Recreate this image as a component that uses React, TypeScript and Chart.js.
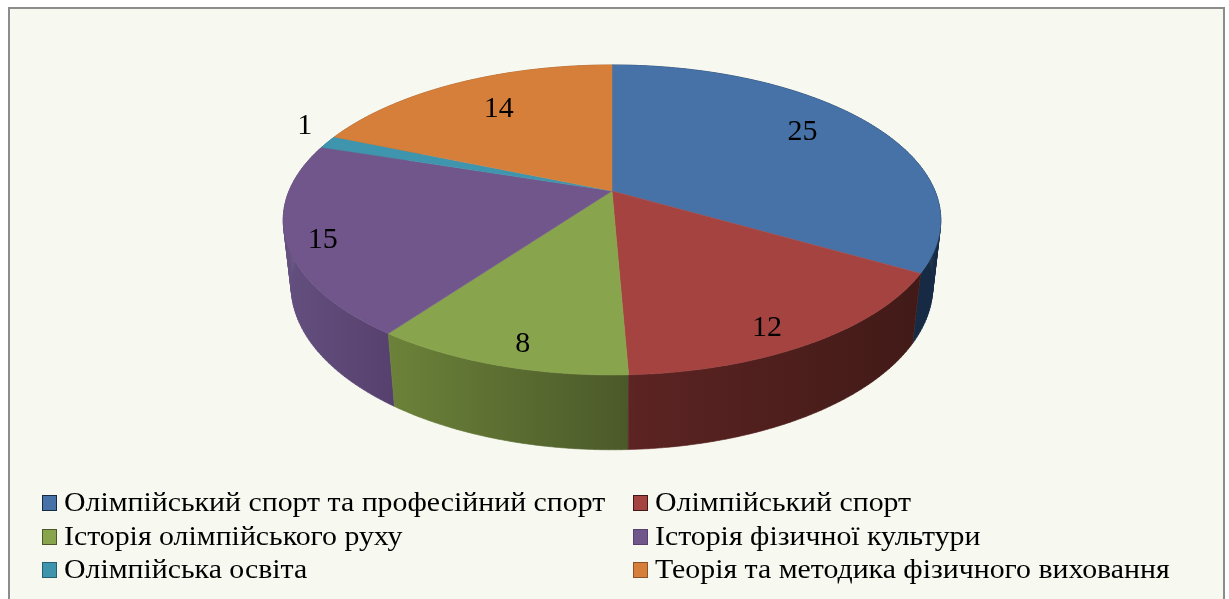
import React, { useEffect, useRef } from "react";
import { Chart, registerables } from "chart.js";

Chart.register(...registerables);

const categories = [
  "Олімпійський спорт та професійний спорт",
  "Олімпійський спорт",
  "Історія олімпійського руху",
  "Історія фізичної культури",
  "Олімпійська освіта",
  "Теорія та методика фізичного виховання",
];
const seriesValues = [25, 12, 8, 15, 1, 14];
const topColors = ["#4672a7", "#a54341", "#88a44d", "#71568b", "#3e95ad", "#d67f3b"];
const wallLeftColors = ["#1a3050", "#5c2423", "#6c8239", "#64507f", "#2c6e80", "#9c5d2a"];
const wallRightColors = ["#172a44", "#411a17", "#4b592a", "#56406e", "#25606f", "#8c5426"];

// Projection of the pie's disc (fitted to the reference's perspective).
const CX = 612;
const CY = 191;
const AX = 323;
const BY = 149.6;
const PERSP = 0.187;
const DEPTH_W = 0.024;
const DEPTH_Y = 67;

// Data-label placement: fraction of radius and angular shift from the slice's middle.
const labelRadius = [0.774, 0.874, 0.88, 0.896, 1.147, 0.739];
const labelShift = [-4.5, 3.2, -1.5, -1.3, 4.8, 1.6];

const FONT = '"Liberation Serif", serif';

function project(theta: number, r: number, lower: boolean): [number, number] {
  const u = Math.sin(theta) * r;
  const v = -Math.cos(theta) * r;
  const w = 1 - PERSP * v + (lower ? DEPTH_W : 0);
  return [CX + (AX * u) / w, CY + (BY * v + (lower ? DEPTH_Y : 0)) / w];
}

const pie3d = {
  id: "pie3d",
  beforeDatasetsDraw(chart: any) {
    const ctx: CanvasRenderingContext2D = chart.ctx;
    const arcs = chart.getDatasetMeta(0).data;
    const spans = arcs.map((a: any) => [a.startAngle + Math.PI / 2, a.endAngle + Math.PI / 2]);
    const STEP = Math.PI / 180;

    // Walls, back to front
    const order = [5, 4, 3, 0, 2, 1];
    for (const i of order) {
      const [s, e] = spans[i];
      const n = Math.max(2, Math.ceil((e - s) / STEP));
      const top: [number, number][] = [];
      const low: [number, number][] = [];
      for (let k = 0; k <= n; k++) {
        const t = s + ((e - s) * k) / n;
        top.push(project(t, 1, false));
        low.push(project(t, 1, true));
      }
      const xs = top.concat(low).map((p) => p[0]);
      const g = ctx.createLinearGradient(Math.min(...xs), 0, Math.max(...xs), 0);
      g.addColorStop(0, wallLeftColors[i]);
      g.addColorStop(1, wallRightColors[i]);
      ctx.fillStyle = g;
      ctx.strokeStyle = g;
      ctx.lineWidth = 0.6;
      ctx.beginPath();
      for (let k = 0; k < n; k++) {
        ctx.moveTo(top[k][0], top[k][1]);
        ctx.lineTo(top[k + 1][0], top[k + 1][1]);
        ctx.lineTo(low[k + 1][0], low[k + 1][1]);
        ctx.lineTo(low[k][0], low[k][1]);
        ctx.closePath();
      }
      ctx.fill();
      ctx.stroke();
    }

    // Top faces
    arcs.forEach((_: any, i: number) => {
      const [s, e] = spans[i];
      const n = Math.max(2, Math.ceil((e - s) / STEP));
      ctx.beginPath();
      ctx.moveTo(CX, CY);
      for (let k = 0; k <= n; k++) {
        const p = project(s + ((e - s) * k) / n, 1, false);
        ctx.lineTo(p[0], p[1]);
      }
      ctx.closePath();
      ctx.fillStyle = topColors[i];
      ctx.fill();
      ctx.strokeStyle = topColors[i];
      ctx.lineWidth = 0.5;
      ctx.stroke();
    });

    // Data labels
    ctx.fillStyle = "#000";
    ctx.font = `30px ${FONT}`;
    ctx.textAlign = "center";
    ctx.textBaseline = "middle";
    seriesValues.forEach((val, i) => {
      const [s, e] = spans[i];
      const mid = (s + e) / 2 + (labelShift[i] * Math.PI) / 180;
      const p = project(mid, labelRadius[i], false);
      ctx.fillText(String(val), p[0], p[1] + 2);
    });

    // Legend, two columns and three rows
    const rows = [503, 537, 570];
    const boxX = [42, 633];
    const textScale = 1.065;
    ctx.font = `28px ${FONT}`;
    ctx.textAlign = "left";
    ctx.textBaseline = "middle";
    categories.forEach((label, i) => {
      const col = i % 2;
      const y = rows[Math.floor(i / 2)];
      ctx.fillStyle = topColors[i];
      ctx.fillRect(boxX[col], y - 8, 15, 16);
      ctx.strokeStyle = wallRightColors[i];
      ctx.lineWidth = 1;
      ctx.strokeRect(boxX[col] + 0.5, y - 7.5, 14, 15);
      ctx.fillStyle = "#000";
      ctx.save();
      ctx.translate(boxX[col] + 22, y + 1);
      ctx.scale(textScale, 1);
      ctx.fillText(label, 0, 0);
      ctx.restore();
    });
    return false;
  },
};

const frame = {
  id: "frame",
  beforeDraw(chart: any) {
    const ctx: CanvasRenderingContext2D = chart.ctx;
    ctx.fillStyle = "#ffffff";
    ctx.fillRect(0, 0, 1229, 599);
    ctx.fillStyle = "#f7f8f0";
    ctx.fillRect(8, 8, 1217, 591);
    ctx.strokeStyle = "#8c8c8c";
    ctx.lineWidth = 2;
    ctx.beginPath();
    ctx.moveTo(9, 610);
    ctx.lineTo(9, 8);
    ctx.lineTo(1224, 8);
    ctx.lineTo(1224, 610);
    ctx.stroke();
  },
};

export default function App() {
  const ref = useRef<HTMLCanvasElement>(null);
  useEffect(() => {
    if (!ref.current) return;
    const chart = new Chart(ref.current, {
      type: "pie",
      data: {
        labels: categories,
        datasets: [{ data: seriesValues, backgroundColor: topColors, borderWidth: 0 }],
      },
      options: {
        animation: false,
        responsive: false,
        plugins: { legend: { display: false }, tooltip: { enabled: false } },
      },
      plugins: [frame, pie3d],
    } as any);
    return () => chart.destroy();
  }, []);
  return (
    <div style={{ position: "fixed", left: 0, top: 0, width: 1229, height: 599 }}>
      <canvas ref={ref} width={1229} height={599} style={{ display: "block" }} />
    </div>
  );
}
